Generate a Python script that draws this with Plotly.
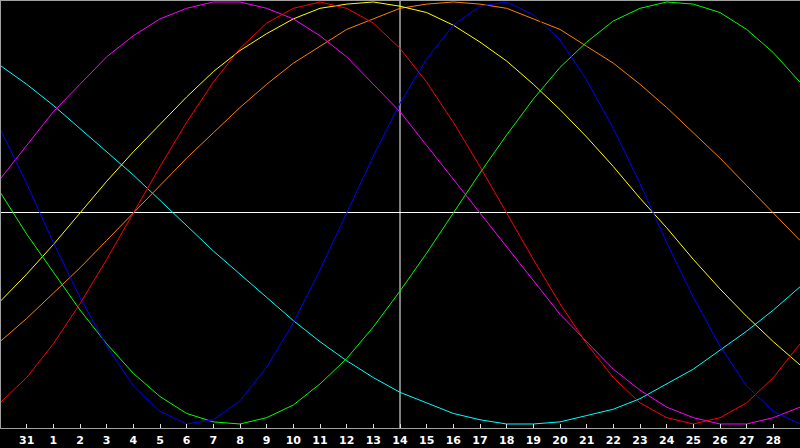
import plotly.graph_objects as go

# day labels along the bottom (first and last are off the visible tick range)
DAYS = [30, 31, 1, 2, 3, 4, 5, 6, 7, 8, 9, 10, 11, 12, 13, 14, 15, 16,
        17, 18, 19, 20, 21, 22, 23, 24, 25, 26, 27, 28, 29]
TODAY = 14

# cycle values in percent, one per day
blue = [40, 14, -14, -40, -63, -82, -94, -100, -98, -89, -73, -52, -27, 0, 27, 52,
        73, 89, 98, 100, 94, 82, 63, 40, 14, -14, -40, -63, -82, -94, -100]
red = [-90, -78, -62, -43, -22, 0, 22, 43, 62, 78, 90, 97, 100, 97, 90, 78,
       62, 43, 22, 0, -22, -43, -62, -78, -90, -97, -100, -97, -90, -78, -62]
green = [10, -10, -28, -46, -62, -76, -87, -95, -99, -100, -97, -91, -81, -69, -54, -37,
         -19, 0, 19, 37, 54, 69, 81, 91, 97, 100, 99, 95, 87, 76, 62]
magenta = [16, 32, 48, 61, 74, 84, 92, 97, 100, 100, 97, 92, 84, 74, 61, 48,
           32, 16, 0, -16, -32, -48, -61, -74, -84, -92, -97, -100, -100, -97, -92]
yellow = [-42, -29, -15, 0, 15, 29, 42, 55, 67, 77, 85, 92, 97, 99, 100, 98,
          95, 89, 81, 72, 61, 49, 36, 22, 7, -7, -22, -36, -49, -61, -72]
orange = [-61, -50, -38, -26, -13, 0, 13, 26, 38, 50, 61, 71, 79, 87, 92, 97,
          99, 100, 99, 97, 92, 87, 79, 71, 61, 50, 38, 26, 13, 0, -13]
cyan = [70, 61, 51, 40, 29, 18, 6, -6, -18, -29, -40, -51, -61, -70, -78, -85,
        -90, -95, -98, -100, -100, -99, -96, -93, -88, -81, -74, -65, -56, -46, -35]

series = [
    (cyan, '#00ffff'),
    (orange, '#ff8000'),
    (yellow, '#ffff00'),
    (magenta, '#ff00ff'),
    (green, '#00ff00'),
    (red, '#ff0000'),
    (blue, '#0000ff'),
]

idx = list(range(len(DAYS)))

fig = go.Figure()
for vals, col in series:
    fig.add_trace(go.Scatter(
        x=idx, y=vals, mode='lines',
        line=dict(color=col, width=1),
        hoverinfo='skip', showlegend=False,
    ))

fig.add_vline(x=DAYS.index(TODAY), line=dict(color='white', width=1), layer='below')

fig.update_layout(
    width=800, height=448,
    paper_bgcolor='black', plot_bgcolor='black',
    margin=dict(l=1, r=0, t=1, b=20),
    showlegend=False,
)
fig.update_xaxes(
    range=[0.0375, 30],
    tickvals=idx[1:-1], ticktext=[str(d) for d in DAYS[1:-1]],
    ticks='inside', ticklen=4, tickcolor='#e0e0e0', tickwidth=1,
    tickfont=dict(family='DejaVu Sans', size=11, color='white', weight='bold'),
    ticklabelstandoff=2,
    showgrid=False, zeroline=False,
    showline=True, linecolor='#a0a0a0', linewidth=1, mirror=True,
)
fig.update_yaxes(
    range=[-101.9, 100.47],
    showticklabels=False, ticks='', showgrid=False,
    zeroline=True, zerolinecolor='white', zerolinewidth=1,
    showline=True, linecolor='#a0a0a0', linewidth=1,
)

# page body has a default margin; drop it so the chart fills the window
fig.write_html('out.html', config={'displayModeBar': False},
               post_script="document.body.style.margin='0';document.body.style.background='black';")
